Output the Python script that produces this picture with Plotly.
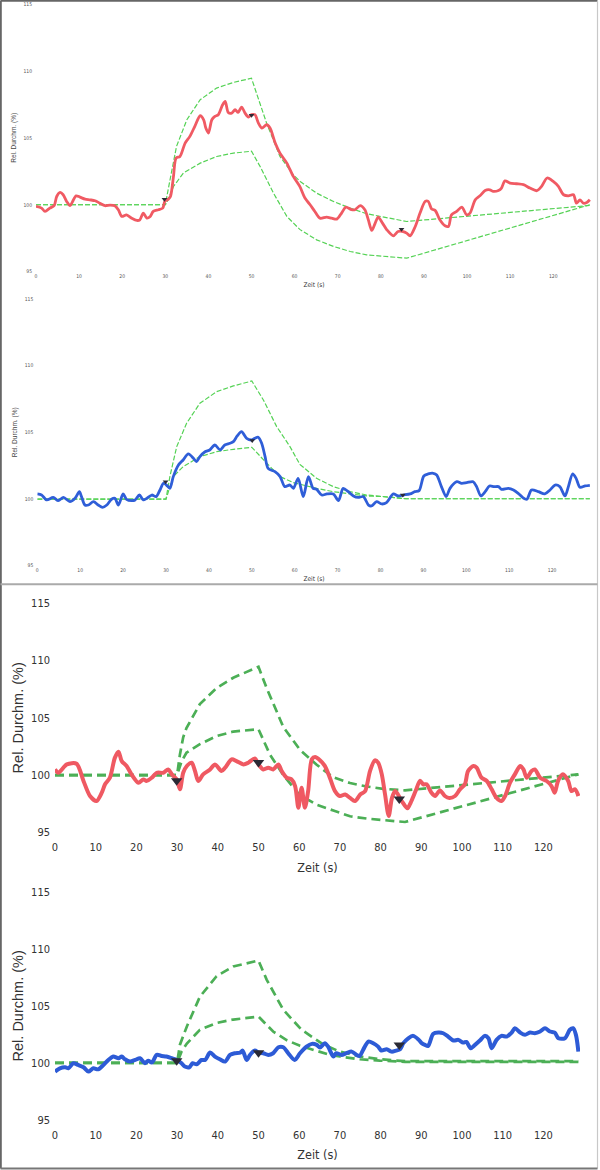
import plotly.graph_objects as go

# ---------------------------------------------------------------
# data: (time in s, relative diameter in %)
# ---------------------------------------------------------------

TICK_VALUES = [0, 10, 20, 30, 40, 50, 60, 70, 80, 90, 100, 110, 120]
Y_TICKS = [95, 100, 105, 110, 115]

# panel 1 (top, red)
RED_1 = [
    (0, 99.88), (1.3, 99.75), (2.1, 99.5), (3.2, 99.75), (4.2, 99.93), (4.8, 100.62),
    (5.6, 100.92), (6.3, 100.75), (7.1, 100.25), (7.9, 99.93), (8.5, 100.25), (9.3, 100.67),
    (10.2, 100.57), (11.4, 100.42), (12.5, 100.37), (13.7, 100.3), (14.8, 100.12), (16.0, 99.93),
    (17.2, 99.98), (18.3, 99.93), (19.1, 99.63), (19.9, 99.13), (21.0, 99.25), (22.2, 99.0),
    (23.4, 98.83), (24.1, 98.88), (24.9, 99.38), (25.7, 99.0), (26.5, 99.13), (27.2, 99.5),
    (28.4, 99.63), (29.4, 99.75), (29.9, 100.25), (30.7, 100.42), (31.2, 100.62), (31.9, 102.12),
    (32.5, 103.49), (33.4, 103.61), (34.6, 104.61), (35.7, 105.11), (36.9, 105.9), (38.1, 106.65),
    (38.9, 106.35), (39.4, 105.73), (40.0, 105.36), (40.8, 106.35), (41.5, 106.6), (42.3, 106.73),
    (43.3, 107.47), (43.9, 107.72), (44.6, 106.9), (45.4, 106.85), (46.2, 107.1), (46.9, 106.9),
    (47.7, 107.3), (48.5, 106.85), (49.3, 106.55), (50.0, 106.73), (50.8, 106.73), (51.6, 106.1),
    (52.4, 105.73), (53.5, 105.98), (54.3, 105.73), (55.5, 104.61), (56.6, 103.86), (58.2, 103.11),
    (59.7, 102.12), (61.2, 101.37), (62.4, 100.5), (63.6, 100.0), (64.7, 99.5), (65.9, 99.0),
    (67.4, 99.08), (68.6, 99.0), (69.8, 98.93), (70.9, 99.38), (71.9, 99.83), (73.2, 99.63),
    (74.0, 99.63), (75.2, 99.93), (76.3, 99.63), (77.1, 98.88), (77.9, 98.08), (78.7, 98.63),
    (79.4, 99.08), (80.4, 98.63), (81.4, 98.13), (82.9, 97.68), (84.0, 98.0), (85.2, 98.0),
    (86.0, 97.88), (86.8, 97.68), (88.0, 98.38), (89.1, 99.38), (90.3, 100.25), (91.0, 100.25),
    (91.8, 99.68), (92.6, 99.58), (93.7, 98.88), (94.9, 98.43), (95.7, 98.38), (96.4, 99.25),
    (97.6, 99.5), (98.8, 99.83), (99.9, 99.25), (100.7, 99.38), (101.9, 100.37), (103.0, 100.67),
    (104.2, 101.07), (105.3, 101.12), (106.1, 101.0), (107.3, 101.07), (108.0, 101.25),
    (108.8, 101.79), (110.0, 101.62), (111.5, 101.57), (113.1, 101.5), (114.6, 101.25),
    (116.2, 101.05), (117.3, 101.37), (118.6, 102.0), (120.0, 101.74), (121.2, 101.37),
    (122.4, 100.75), (123.5, 100.67), (124.7, 100.75), (125.4, 100.12), (126.2, 100.37),
    (127.0, 100.12), (127.8, 100.17), (128.5, 100.37),
]
UPPER_1 = [
    (0, 100), (30, 100), (31.1, 101.87), (32.6, 104.36), (35.0, 106.35), (38.1, 107.85),
    (41.9, 108.72), (45.8, 109.14), (50, 109.45), (51.2, 108.35), (53.5, 106.1), (56.6, 103.61),
    (59.7, 102.24), (61.3, 101.74), (65.1, 100.87), (69.0, 100.25), (72.9, 99.75), (76.7, 99.33),
    (80.6, 99.08), (84.4, 98.88), (86.0, 98.75), (128.5, 99.95),
]
LOWER_1 = [
    (0, 100), (30, 100), (30.3, 100.12), (31.9, 101.37), (34.2, 102.37), (38.1, 103.11),
    (41.9, 103.61), (45.8, 103.86), (50, 104.0), (52.0, 102.86), (55.1, 100.87), (58.2, 99.13),
    (61.2, 98.16), (65.1, 97.38), (69.0, 96.89), (72.9, 96.51), (76.7, 96.26), (80.6, 96.14),
    (86.0, 96.01), (128.5, 100.0),
]
MARK_1 = [(29.8, 100.42), (50.0, 106.68), (84.8, 98.18)]

# panel 2 (top, blue)
BLUE_2 = [
    (0, 100.38), (1.0, 100.3), (2.2, 99.93), (3.7, 100.12), (4.9, 99.88), (6.1, 100.12),
    (7.6, 99.8), (8.8, 100.05), (9.8, 100.55), (10.3, 100.18), (11.1, 99.55), (11.9, 99.55),
    (13.1, 99.8), (14.2, 99.55), (15.2, 99.38), (16.2, 99.55), (17.3, 99.98), (18.1, 100.05),
    (18.9, 99.55), (20.0, 100.38), (20.8, 99.98), (22.0, 99.88), (22.8, 99.93), (23.8, 100.3),
    (24.7, 99.93), (25.5, 100.05), (26.7, 100.3), (27.7, 100.18), (28.6, 100.68), (29.4, 101.18),
    (30.1, 101.05), (30.9, 100.8), (31.7, 101.68), (32.9, 102.55), (34.0, 102.93), (35.2, 103.38),
    (36.4, 103.05), (37.1, 102.8), (37.9, 103.18), (39.1, 103.55), (40.2, 103.68), (41.4, 104.05),
    (42.6, 103.68), (43.7, 104.05), (44.9, 104.18), (45.7, 104.3), (46.6, 104.73), (47.6, 105.05),
    (48.8, 104.55), (50.0, 104.43), (50.7, 104.55), (51.5, 104.63), (52.3, 104.18), (53.1, 103.18),
    (53.8, 102.3), (55.4, 102.05), (56.6, 101.68), (57.7, 100.93), (58.9, 101.05), (59.7, 100.8),
    (60.8, 101.55), (62.0, 100.18), (63.2, 101.68), (64.3, 100.8), (65.1, 100.73), (66.3, 100.3),
    (67.5, 100.38), (69.0, 100.38), (70.2, 99.88), (71.3, 100.8), (72.5, 100.55), (73.7, 100.23),
    (74.8, 100.12), (76.0, 100.18), (77.2, 99.55), (77.9, 99.48), (79.1, 99.8), (80.3, 99.63),
    (81.4, 99.73), (83.0, 100.38), (84.1, 100.23), (85.3, 100.3), (86.9, 100.38), (88.0, 100.55),
    (89.0, 100.63), (90.1, 101.73), (91.1, 101.88), (92.3, 101.93), (93.1, 101.8), (94.2, 100.93),
    (95.3, 100.18), (96.2, 100.8), (97.8, 101.3), (98.9, 101.18), (100.1, 101.23), (101.6, 101.3),
    (102.4, 100.93), (103.4, 100.23), (104.4, 100.55), (105.4, 100.98), (106.5, 100.93),
    (107.5, 100.93), (108.2, 100.73), (109.8, 100.8), (111.0, 100.68), (112.1, 100.43),
    (113.1, 100.13), (114.1, 99.98), (115.2, 100.68), (116.8, 100.55), (118.3, 100.38),
    (119.5, 100.68), (120.7, 101.05), (121.8, 100.93), (123.0, 100.23), (123.8, 100.93),
    (124.8, 101.88), (125.6, 101.55), (126.5, 100.88), (127.7, 100.98), (128.8, 101.03),
]
UPPER_2 = [
    (0, 100), (30, 100), (30.9, 101.68), (32.5, 103.93), (34.8, 105.68), (37.9, 107.18),
    (41.8, 108.05), (45.7, 108.48), (50, 108.85), (52.7, 107.43), (55.8, 105.43), (58.9, 103.93),
    (61.2, 102.6), (65.1, 101.55), (69.0, 100.93), (72.9, 100.55), (76.8, 100.3), (80.7, 100.18),
    (84.6, 100.05), (86.0, 100.02), (128.8, 100.02),
]
LOWER_2 = [
    (0, 100), (30, 100), (31.7, 101.68), (34.0, 102.43), (37.9, 103.18), (41.8, 103.55),
    (45.7, 103.73), (50, 103.88), (53.5, 102.68), (56.6, 101.68), (59.7, 101.23), (61.2, 101.1),
    (65.1, 100.8), (69.0, 100.55), (72.9, 100.38), (76.8, 100.23), (80.7, 100.18), (84.6, 100.08),
    (86.0, 100.02), (128.8, 100.02),
]
MARK_2 = [(29.9, 101.3), (50.1, 104.38), (85.2, 100.3)]

# panel 3 (bottom, red)
RED_3 = [
    (0, 100.5), (0.8, 100.2), (2.9, 100.93), (5.3, 100.99), (7.0, 99.48), (8.6, 98.17),
    (10.2, 97.73), (11.5, 98.46), (12.3, 99.19), (13.5, 99.77), (14.7, 101.5), (15.6, 102.04),
    (16.4, 101.22), (17.6, 100.79), (18.8, 100.06), (20.5, 99.33), (21.7, 99.62), (22.5, 99.48),
    (23.8, 99.77), (25.0, 100.2), (26.6, 100.2), (27.8, 100.49), (28.7, 100.06), (29.9, 99.62),
    (30.7, 98.75), (31.5, 100.2), (32.4, 100.79), (33.6, 101.08), (34.4, 100.35), (35.2, 99.48),
    (36.4, 100.06), (38.1, 100.49), (39.3, 100.93), (40.9, 100.35), (41.8, 100.64), (43.4, 101.37),
    (44.6, 101.22), (46.3, 100.93), (47.5, 101.08), (49.1, 101.45), (50.0, 100.93), (51.2, 100.49),
    (52.4, 100.64), (53.6, 100.49), (54.9, 100.93), (55.7, 100.35), (56.9, 99.77), (58.1, 99.62),
    (59.0, 99.04), (59.8, 97.15), (60.6, 98.9), (61.4, 97.15), (62.2, 98.6), (63.1, 101.37),
    (63.9, 101.57), (65.1, 101.3), (66.3, 100.8), (67.6, 99.7), (68.8, 98.6), (70.0, 98.17),
    (71.3, 98.3), (72.5, 98.0), (73.7, 97.73), (75.0, 98.3), (76.2, 98.6), (77.4, 100.35),
    (78.6, 101.28), (79.4, 101.08), (80.3, 100.06), (81.1, 98.3), (82.0, 96.42), (82.8, 98.0),
    (83.6, 98.6), (85.2, 97.73), (86.6, 97.09), (87.4, 97.6), (88.6, 98.6), (89.7, 99.5),
    (90.5, 99.19), (91.3, 99.19), (92.5, 98.46), (93.4, 98.17), (94.6, 98.66), (95.8, 98.17),
    (96.9, 98.0), (98.3, 98.17), (99.5, 98.75), (100.7, 99.19), (101.5, 100.35), (102.8, 100.79),
    (103.6, 100.64), (104.8, 99.77), (106.1, 99.48), (107.3, 98.75), (108.5, 98.0), (109.7, 97.73),
    (110.6, 98.17), (111.8, 99.33), (113.0, 100.06), (114.3, 100.79), (115.1, 100.49),
    (115.9, 99.77), (117.1, 100.35), (117.9, 100.49), (119.2, 99.77), (120.8, 99.48),
    (122.0, 99.04), (122.8, 98.46), (123.6, 99.48), (124.8, 100.06), (126.1, 99.48),
    (126.9, 98.6), (127.8, 98.75), (128.6, 98.17),
]
UPPER_3 = [
    (0, 100), (30, 100), (30.7, 101.8), (31.5, 103.3), (32.3, 104.1), (35.6, 106.2),
    (39.7, 107.6), (43.8, 108.5), (50, 109.45), (52.0, 107.6), (56.1, 104.2), (60.2, 102.2),
    (64.3, 100.9), (68.4, 99.8), (72.5, 99.3), (76.6, 99.0), (80.6, 98.8), (86.0, 98.66),
    (128.6, 100.06),
]
LOWER_3 = [
    (0, 100), (30, 100), (31.1, 101.2), (32.3, 101.95), (35.6, 102.7), (39.7, 103.4),
    (43.8, 103.8), (50, 104.0), (52.8, 101.8), (56.1, 100.0), (60.0, 98.3), (64.3, 97.4),
    (68.4, 96.9), (72.5, 96.4), (76.6, 96.2), (80.6, 96.05), (86.0, 95.9), (128.6, 100.06),
]
MARK_3 = [(29.9, 99.5), (50.0, 101.1), (84.6, 97.9)]

# panel 4 (bottom, blue)
BLUE_4 = [
    (0, 99.24), (1.2, 99.53), (2.5, 99.62), (3.3, 99.53), (4.5, 99.97), (5.7, 99.82),
    (7.0, 99.62), (8.2, 99.24), (9.4, 99.53), (10.6, 99.44), (11.9, 99.82), (13.1, 100.26),
    (14.3, 100.56), (15.6, 100.41), (16.4, 100.56), (17.2, 100.32), (18.4, 100.12), (19.7, 100.26),
    (20.9, 100.41), (22.1, 99.97), (22.9, 100.2), (23.8, 100.03), (25.0, 100.7), (26.2, 100.61),
    (27.4, 100.56), (28.7, 100.41), (29.9, 100.26), (31.1, 99.97), (31.9, 99.68), (33.0, 99.62),
    (33.8, 99.97), (34.8, 99.88), (36.0, 100.26), (36.9, 100.26), (38.1, 100.91), (39.3, 100.56),
    (40.5, 100.32), (41.8, 100.12), (43.0, 100.7), (44.2, 100.85), (45.5, 100.91), (46.1, 101.08),
    (47.1, 100.26), (47.9, 100.7), (49.1, 101.08), (50.0, 100.9), (51.2, 100.85), (52.4, 100.7),
    (53.6, 100.85), (54.9, 101.37), (56.1, 101.37), (57.3, 100.85), (58.9, 100.26), (60.2, 100.85),
    (61.8, 101.43), (63.1, 101.67), (64.3, 101.58), (65.1, 101.35), (66.3, 101.73), (67.1, 101.43),
    (68.4, 100.56), (69.1, 100.85), (70.4, 100.7), (71.6, 100.85), (72.9, 100.99), (74.1, 100.7),
    (74.9, 100.61), (75.7, 101.14), (77.0, 101.87), (78.2, 101.73), (79.4, 101.43), (80.2, 101.08),
    (81.5, 101.2), (82.7, 100.99), (83.8, 101.08), (84.8, 101.2), (85.6, 101.73), (86.8, 102.16),
    (88.0, 102.37), (89.4, 102.02), (90.1, 101.73), (90.9, 101.58), (91.7, 101.49), (92.9, 102.54),
    (94.2, 102.66), (95.4, 102.6), (96.6, 102.31), (97.9, 101.96), (99.1, 102.02), (100.3, 101.78),
    (101.1, 101.84), (102.1, 101.29), (103.2, 101.58), (104.4, 101.96), (105.6, 102.37),
    (106.5, 102.16), (107.3, 101.29), (108.5, 102.02), (109.7, 102.37), (111.0, 102.31),
    (112.2, 102.66), (113.0, 103.04), (114.3, 102.66), (115.5, 102.46), (116.7, 102.66),
    (117.9, 102.6), (119.2, 102.75), (120.4, 103.04), (121.6, 102.75), (122.8, 102.66),
    (123.7, 102.16), (125.3, 102.16), (126.5, 102.9), (127.3, 103.04), (128.0, 102.46),
    (128.6, 100.99),
]
UPPER_4 = [
    (0, 100), (30, 100), (30.7, 101.6), (32.4, 103.2), (35.6, 105.8), (39.7, 107.6),
    (43.8, 108.45), (50, 108.97), (52.0, 107.3), (56.1, 104.65), (60.6, 102.9), (66.0, 101.6),
    (70.0, 100.99), (74.9, 100.56), (79.8, 100.32), (84.8, 100.2), (86.0, 100.15), (128.6, 100.15),
]
LOWER_4 = [
    (0, 100), (30, 100), (31.1, 101.0), (32.4, 101.7), (35.6, 102.9), (39.7, 103.5),
    (43.8, 103.8), (50, 104.06), (53.6, 102.75), (56.9, 102.0), (60.2, 101.5), (64.3, 101.08),
    (67.6, 100.7), (70.0, 100.56), (74.9, 100.32), (79.8, 100.2), (84.8, 100.12), (86.0, 100.1),
    (128.6, 100.1),
]
MARK_4 = [(29.9, 100.2), (50.0, 100.9), (84.6, 101.58)]

W, H = 600, 1170
NARROW = "DejaVu Sans Condensed, Liberation Sans Narrow, Liberation Sans, sans-serif"
SANS = "Liberation Sans, Arial, sans-serif"


def px_x(x):
    return x / W


def px_y(y):
    return 1 - y / H


def _xy(points):
    return [p[0] for p in points], [p[1] for p in points]


# (data, upper, lower, marks, line colour, x px domain, y px domain, small print)
panels = [
    (RED_1, UPPER_1, LOWER_1, MARK_1, "#f05a63", (36, 592), (4, 271.7), True),
    (BLUE_2, UPPER_2, LOWER_2, MARK_2, "#2f5ed8", (37.3, 590.7), (299, 565.7), True),
    (RED_3, UPPER_3, LOWER_3, MARK_3, "#ef5962", (55, 580), (603.3, 832.3), False),
    (BLUE_4, UPPER_4, LOWER_4, MARK_4, "#2d5bd6", (55, 580), (891.7, 1120), False),
]

fig = go.Figure()
layout = {}

for i, (data, upper, lower, marks, colour, xdom, ydom, small) in enumerate(panels):
    n = "" if i == 0 else str(i + 1)
    xa, ya = "x" + n, "y" + n
    green = "#55d255" if small else "#4caf56"
    gw = 1.2 if small else 2.7
    dash = "5px,2px" if small else "9px,5px"

    for env in (upper, lower):
        tx, vy = _xy(env)
        fig.add_trace(
            go.Scatter(
                x=tx, y=vy, mode="lines", xaxis=xa, yaxis=ya, showlegend=False,
                line=dict(color=green, width=gw, dash=dash),
            )
        )

    tx, vy = _xy(data)
    fig.add_trace(
        go.Scatter(
            x=tx, y=vy, mode="lines", xaxis=xa, yaxis=ya, showlegend=False,
            line=dict(color=colour, width=2.8 if small else 4, shape="spline", smoothing=0.8),
        )
    )

    tx, vy = _xy(marks)
    fig.add_trace(
        go.Scatter(
            x=tx, y=vy, mode="markers", xaxis=xa, yaxis=ya, showlegend=False,
            marker=dict(symbol="triangle-down", size=5 if small else 10, color="#2a2a35"),
        )
    )

    tick_font = dict(family=NARROW, size=5 if small else 11, color="#555" if small else "#333")
    layout["xaxis" + n] = dict(
        domain=[px_x(xdom[0]), px_x(xdom[1])],
        anchor=ya,
        range=[0, 129],
        automargin=False,
        tickvals=TICK_VALUES,
        showgrid=False, zeroline=False, showline=False, ticks="",
        tickfont=tick_font,
        ticklabelstandoff=0 if small else 7,
        title=dict(
            text="Zeit (s)",
            font=dict(family=NARROW, size=6.5 if small else 12.5, color="#333"),
            standoff=4 if small else 9,
        ),
    )
    layout["yaxis" + n] = dict(
        domain=[px_y(ydom[1]), px_y(ydom[0])],
        anchor=xa,
        range=[95, 115],
        automargin=False,
        tickvals=Y_TICKS,
        showgrid=False, zeroline=False, showline=False, ticks="",
        tickfont=tick_font,
        ticklabelstandoff=3 if small else 4,
        title=dict(
            text="Rel. Durchm. (%)",
            font=dict(family=SANS, size=6.5 if small else 14.5, color="#444" if small else "#333"),
            standoff=6 if small else 4,
        ),
    )

# frame of the scanned figure
border = [
    (0.8, 0.8, 0.8, 1168.5, "#666", 2),      # left
    (0.5, 0.8, 597.5, 0.8, "#666", 2),        # top
    (597.5, 0.8, 597.5, 1168.5, "#c8c8c8", 1.2),  # right
    (0.5, 1168.5, 597.5, 1168.5, "#777", 2),  # bottom
    (0.5, 584.2, 597.5, 584.2, "#aaa", 2),    # separator
]
shapes = [
    dict(
        type="line", xref="paper", yref="paper",
        x0=px_x(x0), y0=px_y(y0), x1=px_x(x1), y1=px_y(y1),
        line=dict(color=c, width=w),
    )
    for x0, y0, x1, y1, c, w in border
]

fig.update_layout(
    width=W,
    height=H,
    autosize=False,
    margin=dict(l=0, r=0, t=0, b=0, autoexpand=False),
    paper_bgcolor="white",
    plot_bgcolor="white",
    shapes=shapes,
    **layout,
)

# page has a default 8px body margin; drop it so the figure sits at the window origin
fig.write_html(
    "out.html",
    config={"displayModeBar": False},
    post_script="document.body.style.margin='0';document.body.style.overflow='hidden';",
)
